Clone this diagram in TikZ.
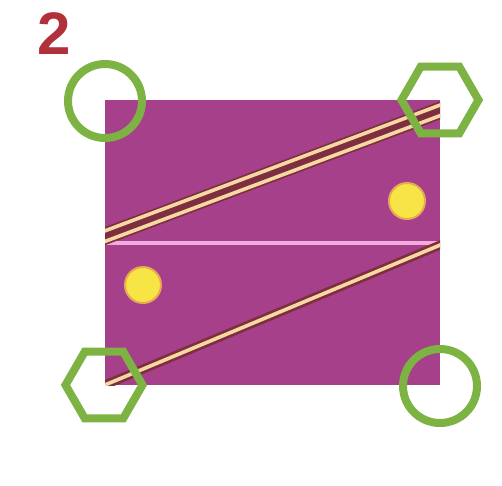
\documentclass[tikz,border=0pt]{standalone}
\usepackage{fontspec}
\setmainfont{Liberation Sans}
\usetikzlibrary{shapes.geometric}
\definecolor{plum}{HTML}{A6408B}
\definecolor{pinkline}{HTML}{F2ABDD}
\definecolor{cream}{HTML}{F6D9A2}
\definecolor{stripebrown}{HTML}{7E2E3E}
\definecolor{dotyellow}{HTML}{F7E445}
\definecolor{dotedge}{HTML}{E9A853}
\definecolor{leaf}{HTML}{7CB342}
\definecolor{numred}{HTML}{B2303C}
\tikzset{
  greenring/.style={circle,draw=leaf,line width=8pt,minimum size=74pt,inner sep=0pt},
  greenhex/.style={regular polygon,regular polygon sides=6,draw=leaf,line width=8pt,minimum size=77pt,inner sep=0pt},
  yellowdot/.style={circle,fill=dotyellow,draw=dotedge,line width=2pt,minimum size=36pt,inner sep=0pt},
  creamline/.style={cream,line width=3.6pt},
  brownband/.style={stripebrown,line width=#1},
}
\begin{document}
\begin{tikzpicture}[x=1pt,y=-1pt]
\useasboundingbox (0,0) rectangle (502,485);
\fill[white] (0,0) rectangle (502,485);
% number
\node[font=\fontsize{60}{60}\selectfont\bfseries,text=numred,inner sep=0pt] (num) at (54,34) {2};
% board
\coordinate (tl) at (105,100);
\coordinate (br) at (440,385);
\fill[plum] (tl) rectangle (br);
\coordinate (ml) at (105,243);
\coordinate (mr) at (440,243);
\draw[pinkline,line width=4pt] (ml) -- (mr);
\begin{scope}
\clip (tl) rectangle (br);
% upper double stripe
\coordinate (ua) at (100,238);
\coordinate (ub) at (445,108.5);
\coordinate (u1a) at (100,232.7);
\coordinate (u1b) at (445,103.2);
\coordinate (u2a) at (100,243.3);
\coordinate (u2b) at (445,113.8);
\draw[brownband=17pt] (ua) -- (ub);
\draw[creamline] (u1a) -- (u1b);
\draw[creamline] (u2a) -- (u2b);
% lower single stripe
\coordinate (la) at (100,387);
\coordinate (lb) at (445,243);
\draw[brownband=9pt] (la) -- (lb);
\draw[creamline] (la) -- (lb);
\end{scope}
% dots
\node[yellowdot] (dot1) at (407,201) {};
\node[yellowdot] (dot2) at (143,285) {};
% corner markers
\node[greenring] (c1) at (105,101) {};
\node[greenhex] (h1) at (440,100) {};
\node[greenhex] (h2) at (104,385) {};
\node[greenring] (c2) at (440,386) {};
\end{tikzpicture}
\end{document}
